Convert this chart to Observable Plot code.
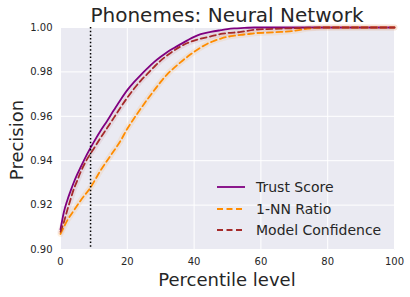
<!DOCTYPE html>
<html>
<head>
<meta charset="utf-8">
<script src="https://cdn.jsdelivr.net/npm/d3@7"></script>
<script src="https://cdn.jsdelivr.net/npm/@observablehq/plot@0.6"></script>
<style>
  html, body { margin: 0; padding: 0; background: #fff; }
  #chart { width: 410px; height: 297px; }
</style>
</head>
<body>
<div id="chart"></div>
<script>
const title = "Phonemes: Neural Network";
const xLabel = "Percentile level";
const yLabel = "Precision";
const xTicks = [0, 20, 40, 60, 80, 100];
const yTicks = [0.90, 0.92, 0.94, 0.96, 0.98, 1.00];
const cutoffPercentile = 9;

const seriesNames = ["Trust Score", "1-NN Ratio", "Model Confidence"];
const seriesColors = ["#800080", "#FF8C00", "#A52A2A"];

const trustPct = [0, 1, 2, 3, 4, 5, 6, 8, 10, 12, 14, 16, 18, 20, 22, 24, 26, 28, 30, 32, 34, 36, 38, 40, 42, 45, 48, 50, 52, 55, 58, 60, 70, 80, 90, 100];
const trustVal = [0.9090, 0.9168, 0.9220, 0.9263, 0.9303, 0.9338, 0.9370, 0.9431, 0.9485, 0.9535, 0.9580, 0.9628, 0.9675, 0.9718, 0.9754, 0.9786, 0.9816, 0.9844, 0.9868, 0.9890, 0.9908, 0.9925, 0.9942, 0.9958, 0.9970, 0.9980, 0.9988, 0.9993, 0.9996, 0.9998, 1.0, 1.0, 1.0, 1.0, 1.0, 1.0];

const nnPct = [0, 2, 4, 6, 9, 12, 15, 18, 20, 22, 24, 26, 28, 30, 32, 34, 36, 38, 40, 42, 44, 46, 48, 50, 52, 54, 56, 58, 62, 66, 70, 72, 74, 76, 78, 80, 90, 100];
const nnVal = [0.9070, 0.9130, 0.9176, 0.9220, 0.9280, 0.9356, 0.9423, 0.9490, 0.9544, 0.9590, 0.9634, 0.9676, 0.9716, 0.9755, 0.9790, 0.9818, 0.9844, 0.9868, 0.9890, 0.9910, 0.9927, 0.9940, 0.9950, 0.9958, 0.9963, 0.9967, 0.9970, 0.9974, 0.9977, 0.9980, 0.9985, 0.9990, 0.9995, 0.9998, 1.0, 1.0, 1.0, 1.0];

const confPct = [0, 1, 2, 3, 4, 5, 6, 8, 10, 12, 14, 16, 18, 20, 22, 24, 26, 28, 30, 32, 34, 36, 38, 40, 42, 45, 48, 50, 54, 58, 62, 66, 70, 74, 78, 80, 90, 100];
const confVal = [0.9080, 0.9123, 0.9176, 0.9225, 0.9273, 0.9310, 0.9348, 0.9408, 0.9455, 0.9503, 0.9548, 0.9594, 0.9640, 0.9684, 0.9724, 0.9760, 0.9791, 0.9822, 0.9851, 0.9875, 0.9896, 0.9915, 0.9930, 0.9941, 0.9950, 0.9960, 0.9971, 0.9975, 0.9980, 0.9990, 0.9993, 0.9995, 0.9997, 0.9999, 1.0, 1.0, 1.0, 1.0];

const trust = trustPct.map((p, i) => ({p, v: trustVal[i]}));
const nn = nnPct.map((p, i) => ({p, v: nnVal[i]}));
const conf = confPct.map((p, i) => ({p, v: confVal[i]}));

const textColor = "#262626";
const font = "DejaVu Sans, sans-serif";
const curve = "monotone-x";

const plot = Plot.plot({
  width: 410,
  height: 297,
  marginTop: 27,
  marginBottom: 48,
  marginLeft: 60,
  marginRight: 16,
  style: {background: "#ffffff", fontFamily: font, fontSize: "10px", color: textColor},
  x: {domain: [0, 100], ticks: xTicks, tickSize: 0, tickPadding: 8, label: null},
  y: {domain: [0.9, 1.0], ticks: yTicks, tickSize: 0, tickPadding: 8, tickFormat: d3.format(".2f"), label: null},
  marks: [
    Plot.frame({fill: "#EAEAF2", stroke: null}),
    Plot.gridX(xTicks, {stroke: "#ffffff", strokeOpacity: 1, strokeWidth: 1}),
    Plot.gridY(yTicks, {stroke: "#ffffff", strokeOpacity: 1, strokeWidth: 1}),
    Plot.line(nn, {x: "p", y: "v", curve, stroke: seriesColors[1], strokeWidth: 6, strokeOpacity: 0.1}),
    Plot.line(conf, {x: "p", y: "v", curve, stroke: seriesColors[2], strokeWidth: 6, strokeOpacity: 0.08}),
    Plot.line(trust, {x: "p", y: "v", curve, stroke: seriesColors[0], strokeWidth: 1.8}),
    Plot.line(nn, {x: "p", y: "v", curve, stroke: seriesColors[1], strokeWidth: 1.8, strokeDasharray: "6,3.5"}),
    Plot.line(conf, {x: "p", y: "v", curve, stroke: seriesColors[2], strokeWidth: 1.8, strokeDasharray: "6,3.5"}),
    Plot.ruleX([cutoffPercentile], {stroke: "#000000", strokeWidth: 1.5, strokeDasharray: "1.5,2.2"})
  ]
});

const svg = d3.select(plot);
svg.selectAll("g[aria-label$='tick label'] text").attr("fill", textColor);

svg.append("text")
  .attr("x", 227).attr("y", 22)
  .attr("text-anchor", "middle")
  .attr("font-family", font).attr("font-size", 20)
  .attr("fill", textColor)
  .text(title);

svg.append("text")
  .attr("x", 227).attr("y", 286)
  .attr("text-anchor", "middle")
  .attr("font-family", font).attr("font-size", 18)
  .attr("fill", textColor)
  .text(xLabel);

svg.append("text")
  .attr("transform", "translate(23,140) rotate(-90)")
  .attr("text-anchor", "middle")
  .attr("font-family", font).attr("font-size", 18)
  .attr("fill", textColor)
  .text(yLabel);

const legend = svg.append("g");
const rowY = [187, 209, 230];
const dashes = [null, "6,3.5", "6,3.5"];
seriesNames.forEach((name, i) => {
  const ln = legend.append("line")
    .attr("x1", 217).attr("x2", 245)
    .attr("y1", rowY[i]).attr("y2", rowY[i])
    .attr("stroke", seriesColors[i]).attr("stroke-width", 1.8);
  if (dashes[i]) ln.attr("stroke-dasharray", dashes[i]);
  legend.append("text")
    .attr("x", 256).attr("y", rowY[i])
    .attr("dy", "0.35em")
    .attr("text-anchor", "start")
    .attr("font-family", font).attr("font-size", 14)
    .attr("fill", textColor)
    .text(name);
});

document.getElementById("chart").appendChild(plot);
</script>
</body>
</html>
